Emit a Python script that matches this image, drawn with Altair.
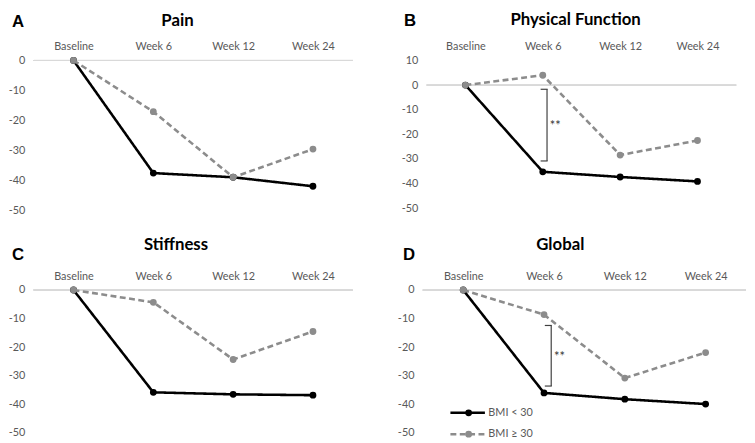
import altair as alt
import pandas as pd

weeks = ["Baseline", "Week 6", "Week 12", "Week 24"]
groups = ["BMI < 30", "BMI ≥ 30"]

pain_lt = [0, -37.6, -39.0, -42.0]
pain_ge = [0, -17.1, -39.0, -29.6]
pf_lt = [0, -35.2, -37.3, -39.1]
pf_ge = [0, 4.0, -28.4, -22.5]
stiff_lt = [0, -35.8, -36.5, -36.8]
stiff_ge = [0, -4.3, -24.3, -14.5]
glob_lt = [0, -36.0, -38.2, -39.9]
glob_ge = [0, -8.6, -30.8, -21.9]

pf_bracket = ["Week 6", -1.7, -30.8, -16.5]
glob_bracket = ["Week 6", -12.4, -33.6, -23.5]

COLORS = ["#000000", "#8c8c8c"]
DASHES = [[1, 0], [6, 3.5]]
LABEL_COLOR = "#595959"
FONT = "Lato"


def panel(title, letter, lt, ge, ydomain, yvalues, width, height,
          title_x, title_y, letter_x, letter_y,
          bracket=None, bracket_dx=4, star_dx=12, legend=False):
    df = pd.DataFrame({
        "week": weeks * 2,
        "value": lt + ge,
        "group": [groups[0]] * 4 + [groups[1]] * 4,
    })
    base = alt.Chart(df)
    x = alt.X("week:N", sort=weeks,
              scale=alt.Scale(type="point", padding=0.5),
              axis=alt.Axis(orient="top", title=None, labelAngle=0, domain=False,
                            ticks=False, grid=False, labelPadding=9,
                            labelFontSize=11, labelColor=LABEL_COLOR, labelFont=FONT))
    y = alt.Y("value:Q",
              scale=alt.Scale(domain=ydomain, nice=False, zero=False),
              axis=alt.Axis(title=None, values=yvalues, tickCount=len(yvalues) + 2,
                            domain=False, ticks=False,
                            grid=False, labelPadding=9, labelFontSize=11,
                            labelColor=LABEL_COLOR, labelFont=FONT, labelOverlap=False,
                            labelExpr="'' + datum.value"))
    color = alt.Color("group:N", scale=alt.Scale(domain=groups, range=COLORS), legend=None)
    dash = alt.StrokeDash("group:N", scale=alt.Scale(domain=groups, range=DASHES), legend=None)

    zero = base.mark_rule(color="#d9d9d9", strokeWidth=1).encode(y=alt.datum(0))
    layers = [zero]
    for g in groups:
        sub = base.transform_filter(alt.datum.group == g)
        layers.append(sub.mark_line(strokeWidth=2.6).encode(x=x, y=y, color=color, strokeDash=dash))
        layers.append(sub.mark_circle(size=48, opacity=1).encode(x=x, y=y, color=color))

    if bracket is not None:
        bdf = pd.DataFrame({"week": [bracket[0]], "top": [bracket[1]],
                            "bottom": [bracket[2]], "star": [bracket[3]]})
        bb = alt.Chart(bdf)
        bx = alt.X("week:N", sort=weeks)
        layers.append(bb.mark_rule(color="#404040", strokeWidth=1.2, xOffset=bracket_dx).encode(
            x=bx, y=alt.Y("top:Q"), y2="bottom:Q"))
        for fld in ["top", "bottom"]:
            layers.append(bb.mark_rule(color="#404040", strokeWidth=1.2,
                                       xOffset=bracket_dx - 6.5, x2Offset=bracket_dx + 0.6).encode(
                x=bx, x2="week:N", y=alt.Y(f"{fld}:Q")))
        layers.append(bb.mark_text(text="**", fontSize=13, color="#333333", font=FONT,
                                   dx=star_dx, baseline="middle").encode(
            x=bx, y=alt.Y("star:Q")))

    tdf = pd.DataFrame({"title": [title], "letter": [letter]})
    tc = alt.Chart(tdf)
    layers.append(tc.mark_text(font=FONT, fontWeight="bold", fontSize=17,
                               align="center", baseline="middle", color="#000000").encode(
        x=alt.value(title_x), y=alt.value(title_y), text="title:N"))
    layers.append(tc.mark_text(font="Liberation Sans", fontWeight="bold",
                               fontSize=17, align="left", baseline="middle",
                               color="#000000").encode(
        x=alt.value(letter_x), y=alt.value(letter_y), text="letter:N"))

    if legend:
        for i, g in enumerate(groups):
            gy = 124.6 + 21.7 * i
            gdf = pd.DataFrame({"label": [g]})
            gc = alt.Chart(gdf)
            layers.append(gc.mark_rule(color=COLORS[i], strokeWidth=2.6,
                                       strokeDash=DASHES[i]).encode(
                x=alt.value(28), x2=alt.value(63), y=alt.value(gy)))
            layers.append(gc.mark_circle(size=48, opacity=1, color=COLORS[i]).encode(
                x=alt.value(46.5), y=alt.value(gy)))
            layers.append(gc.mark_text(align="left", baseline="middle", fontSize=11,
                                       font=FONT, color=LABEL_COLOR).encode(
                x=alt.value(66.5), y=alt.value(gy), text="label:N"))

    return alt.layer(*layers).properties(width=width, height=height)


ticks_a = [0, -10, -20, -30, -40, -50]
ticks_b = [10, 0, -10, -20, -30, -40, -50]

pA = panel("Pain", "A", pain_lt, pain_ge, [-50, 0], ticks_a, 324, 152,
           title_x=146, title_y=-40, letter_x=-22, letter_y=-39)
pB = panel("Physical Function", "B", pf_lt, pf_ge, [-50, 10], ticks_b, 314, 150,
           title_x=151, title_y=-41, letter_x=-23, letter_y=-40,
           bracket=pf_bracket, bracket_dx=4.3, star_dx=12.6)
pC = panel("Stiffness", "C", stiff_lt, stiff_ge, [-50, 0], ticks_a, 324, 145,
           title_x=144.5, title_y=-46, letter_x=-22, letter_y=-35)
pD = panel("Global", "D", glob_lt, glob_ge, [-50, 0], ticks_a, 328, 145,
           title_x=139.5, title_y=-46, letter_x=-20, letter_y=-35,
           bracket=glob_bracket, bracket_dx=7.3, star_dx=15.6, legend=True)

row1 = alt.hconcat(pA, pB, spacing=48)
row2 = alt.hconcat(pC, pD, spacing=44)
chart = (
    alt.vconcat(row1, row2, spacing=21)
    .configure(background="white", padding=0)
    .configure_view(stroke=None)
    .configure_axis(labelOverlap=False)
)

chart.save("out.html", embed_options={"renderer": "svg", "actions": False})
